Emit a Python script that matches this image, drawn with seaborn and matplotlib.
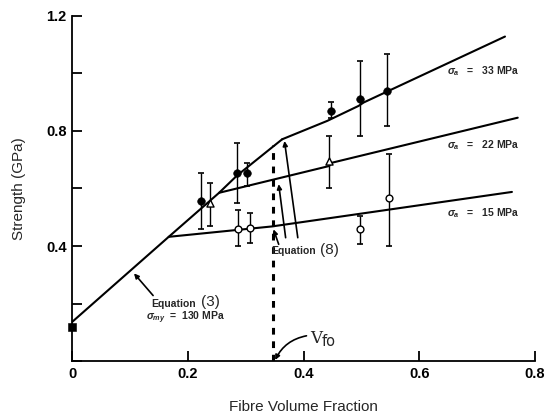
import numpy as np
import pandas as pd
import matplotlib
matplotlib.use("Agg")
import matplotlib.pyplot as plt
import seaborn as sns

# ---- data ----
eq3_x = [0.0, 0.167, 0.254, 0.285, 0.345, 0.363]
eq3_y = [0.136, 0.432, 0.585, 0.645, 0.742, 0.771]

s33_line_x = [0.363, 0.441, 0.495, 0.504, 0.748]
s33_line_y = [0.771, 0.835, 0.887, 0.899, 1.128]
s22_line_x = [0.254, 0.444, 0.450, 0.770]
s22_line_y = [0.585, 0.678, 0.690, 0.846]
s15_line_x = [0.167, 0.345, 0.760]
s15_line_y = [0.432, 0.468, 0.588]

s33_x = [0.223, 0.285, 0.303, 0.447, 0.497, 0.545]
s33_y = [0.557, 0.655, 0.655, 0.870, 0.912, 0.939]
s33_lo = [0.458, 0.551, 0.609, 0.846, 0.783, 0.817]
s33_hi = [0.655, 0.757, 0.690, 0.899, 1.043, 1.067]

s22_x = [0.238, 0.444]
s22_y = [0.548, 0.696]
s22_lo = [0.470, 0.603]
s22_hi = [0.620, 0.783]

s15_x = [0.286, 0.307, 0.498, 0.547]
s15_y = [0.460, 0.463, 0.458, 0.566]
s15_lo = [0.400, 0.412, 0.406, 0.400]
s15_hi = [0.525, 0.516, 0.504, 0.719]

matrix_x = [0.0]
matrix_y = [0.118]

vfo_x = 0.347
vfo_top = 0.75

line_labels = [r"$\sigma_a$   =   33 MPa", r"$\sigma_a$   =   22 MPa", r"$\sigma_a$   =   15 MPa"]
xticks = [0.0, 0.2, 0.4, 0.6, 0.8]
xtick_labels = ["0", "0.2", "0.4", "0.6", "0.8"]
yticks = [0.0, 0.2, 0.4, 0.6, 0.8, 1.0, 1.2]
ytick_labels = ["", "", "0.4", "", "0.8", "", "1.2"]

# ---- style ----
sns.set_style("ticks")
plt.rcParams["font.family"] = ["Liberation Sans", "DejaVu Sans"]
plt.rcParams["mathtext.fontset"] = "custom"
plt.rcParams["mathtext.rm"] = "Liberation Sans"
plt.rcParams["mathtext.it"] = "Liberation Sans:italic:bold"

fig = plt.figure(figsize=(5.46, 4.17), dpi=100)
ax = fig.add_axes([0.132, 0.134, 0.848, 0.828])

lw = 1.5
k = "black"
for xs, ys in [(eq3_x, eq3_y), (s33_line_x, s33_line_y),
               (s22_line_x, s22_line_y), (s15_line_x, s15_line_y)]:
    df = pd.DataFrame({"x": xs, "y": ys})
    sns.lineplot(data=df, x="x", y="y", ax=ax, color=k, linewidth=lw,
                 sort=False, estimator=None)

# error bars
for xs, ys, lo, hi in [(s33_x, s33_y, s33_lo, s33_hi),
                       (s22_x, s22_y, s22_lo, s22_hi),
                       (s15_x, s15_y, s15_lo, s15_hi)]:
    ys = np.array(ys); lo = np.array(lo); hi = np.array(hi)
    ax.errorbar(xs, ys, yerr=[ys - lo, hi - ys], fmt="none", ecolor=k,
                elinewidth=1.0, capsize=2.5, capthick=1.2)

# markers
sns.scatterplot(x=s33_x, y=s33_y, ax=ax, marker="o", s=30, color=k,
                edgecolor=k, zorder=5)
sns.scatterplot(x=s22_x, y=s22_y, ax=ax, marker="^", s=26, color="white",
                edgecolor=k, linewidth=1.0, zorder=5)
sns.scatterplot(x=s15_x, y=s15_y, ax=ax, marker="o", s=24, color="white",
                edgecolor=k, linewidth=1.0, zorder=5)
sns.scatterplot(x=matrix_x, y=matrix_y, ax=ax, marker="s", s=26, color=k,
                edgecolor=k, zorder=5, clip_on=False)

# V_fo dashed line
ax.plot([vfo_x, vfo_x], [0.0, vfo_top], color=k, linewidth=2.2,
        linestyle=(0, (2.2, 2.2)))

# series labels
fs_small = 7.5
for yy, lab in zip([1.009, 0.750, 0.516], line_labels):
    ax.text(0.648, yy, lab, fontsize=fs_small, fontweight="bold",
            va="center", ha="left")

# Equation (3)
ax.text(0.137, 0.200, "Equation", fontsize=fs_small, fontweight="bold",
        va="center", ha="left")
ax.text(0.222, 0.205, "(3)", fontsize=11, va="center", ha="left")
ax.text(0.128, 0.151, r"$\sigma_{my}$  =  130 MPa", fontsize=fs_small,
        fontweight="bold", va="center", ha="left")
ax.annotate("", xy=(0.107, 0.305), xytext=(0.140, 0.228),
            arrowprops=dict(arrowstyle="-|>", color=k, lw=1.2,
                            mutation_scale=7, shrinkA=0, shrinkB=0))

# Equation (8)
ax.text(0.345, 0.382, "Equation", fontsize=fs_small, fontweight="bold",
        va="center", ha="left")
ax.text(0.428, 0.387, "(8)", fontsize=11, va="center", ha="left")
for (x0, y0, x1, y1) in [(0.390, 0.429, 0.367, 0.765),
                         (0.369, 0.429, 0.357, 0.615),
                         (0.357, 0.406, 0.348, 0.458)]:
    ax.annotate("", xy=(x1, y1), xytext=(x0, y0),
                arrowprops=dict(arrowstyle="-|>", color=k, lw=1.2,
                                mutation_scale=7, shrinkA=0, shrinkB=0))

# V_fo label
ax.text(0.411, 0.080, "V", fontsize=12, va="center", ha="left",
        family="DejaVu Serif")
ax.text(0.432, 0.068, "fo", fontsize=10.5, va="center", ha="left",
        family="DejaVu Sans")
ax.annotate("", xy=(0.351, 0.004), xytext=(0.405, 0.088),
            arrowprops=dict(arrowstyle="-|>", color=k, lw=1.2,
                            mutation_scale=7, shrinkA=0, shrinkB=0,
                            connectionstyle="arc3,rad=0.25"),
            annotation_clip=False)

# axes
ax.set_xlim(0, 0.8)
ax.set_ylim(0, 1.2)
ax.set_xticks(xticks)
ax.set_xticklabels(xtick_labels)
ax.set_yticks(yticks)
ax.set_yticklabels(ytick_labels)
ax.tick_params(direction="in", length=7, width=1.3, labelsize=10.5, pad=4,
               colors=k)
for lab in ax.get_xticklabels() + ax.get_yticklabels():
    lab.set_fontweight("bold")
ax.set_xlabel("Fibre Volume Fraction", fontsize=11)
ax.set_ylabel("Strength (GPa)", fontsize=11)
ax.xaxis.set_label_coords(0.5, -0.113)
ax.yaxis.set_label_coords(-0.10, 0.5)
ax.xaxis.label.set_va("top")
sns.despine(ax=ax)
for sp in ["left", "bottom"]:
    ax.spines[sp].set_linewidth(1.3)
    ax.spines[sp].set_color(k)

fig.savefig("out.png", dpi=100)
